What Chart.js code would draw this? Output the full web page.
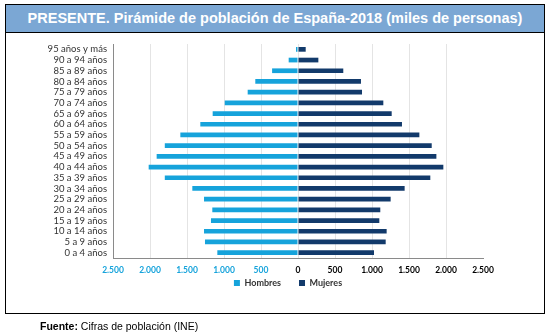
<!DOCTYPE html>
<html>
<head>
<meta charset="utf-8">
<script src="https://cdn.jsdelivr.net/npm/chart.js@4"></script>
<style>
  html, body { margin: 0; padding: 0; background: #fff; }
  body { width: 551px; height: 336px; position: relative; overflow: hidden; }
  #c { position: absolute; left: 0; top: 0; }
  #frame { position: absolute; left: 5px; top: 4px; width: 540px; height: 310px;
           border: 1.5px solid #000; box-sizing: border-box; pointer-events: none; }
  #title { position: absolute; left: 0; top: 0; right: 0; height: 28px; background: #7BA7D4;
           border-bottom: 1.5px solid #000; box-sizing: border-box;
           color: #fff; font: bold 14.5px "Liberation Sans", Arial, sans-serif;
           text-align: center; line-height: 26px; }
  #src { position: absolute; left: 40px; top: 320px; font: 10.5px "Liberation Sans", Arial, sans-serif; color: #000; }
</style>
</head>
<body>
<canvas id="c" width="551" height="336"></canvas>
<div id="frame"><div id="title">PRESENTE. Pirámide de población de España-2018 (miles de personas)</div></div>
<div id="src"><b>Fuente:</b> Cifras de población (INE)</div>
<script>
const categories = ["95 años y más","90 a 94 años","85 a 89 años","80 a 84 años","75 a 79 años","70 a 74 años","65 a 69 años","60 a 64 años","55 a 59 años","50 a 54 años","45 a 49 años","40 a 44 años","35 a 39 años","30 a 34 años","25 a 29 años","20 a 24 años","15 a 19 años","10 a 14 años","5 a 9 años","0 a 4 años"];
const hombres = [27,126,350,577,680,990,1153,1320,1590,1800,1910,2018,1800,1428,1270,1158,1176,1270,1257,1090];
const mujeres = [104,275,612,851,865,1153,1266,1405,1640,1807,1870,1964,1788,1441,1252,1112,1099,1198,1185,1027];
const seriesNames = ["Hombres","Mujeres"];
const axisMin = -2500, axisMax = 2500, axisStep = 500;

function fmt(v) {
  const s = String(Math.abs(Math.round(v)));
  return s.replace(/\B(?=(\d{3})+(?!\d))/g, ".");
}

const legendPad = 18;
const legendPlace = {
  id: 'legendPlace',
  afterLayout(chart) {
    const lg = chart.legend;
    if (lg) {
      lg.left -= 10; lg.right -= 10;
      const h = lg.bottom - lg.top;
      lg.top = 283 - legendPad - 4.5;
      lg.bottom = lg.top + h;
    }
  }
};

new Chart(document.getElementById('c'), {
  type: 'bar',
  plugins: [legendPlace],
  data: {
    labels: categories,
    datasets: [
      { label: seriesNames[0], data: hombres.map(v => -v), backgroundColor: '#16A3DB',
        barPercentage: 0.44, categoryPercentage: 1 },
      { label: seriesNames[1], data: mujeres, backgroundColor: '#123A6B',
        barPercentage: 0.44, categoryPercentage: 1 }
    ]
  },
  options: {
    indexAxis: 'y',
    responsive: false,
    animation: false,
    layout: { padding: { left: 0, right: 68, top: 44, bottom: 23 } },
    plugins: {
      title: { display: false },
      tooltip: { enabled: false },
      legend: {
        display: true, position: 'bottom', fullSize: false,
        labels: { boxWidth: 6, boxHeight: 6, padding: legendPad, color: '#333',
                  font: { family: 'Lato', size: 9, weight: 'bold' } }
      }
    },
    scales: {
      x: {
        stacked: true, min: axisMin, max: axisMax,
        afterFit: s => { s.height = 18; },
        ticks: { stepSize: axisStep, padding: 7, maxRotation: 0,
                 color: c => c.tick.value < 0 ? '#16A3DB' : '#000',
                 font: { family: 'Lato', size: 8.5, weight: 'bold' },
                 callback: v => fmt(v) },
        grid: { drawTicks: false, color: c => (c.tick && (c.tick.value === axisMax || c.tick.value === axisMin)) ? 'rgba(0,0,0,0)' : '#e4e4e4' },
        border: { display: true, color: '#8a8a8a', width: 1 }
      },
      y: {
        stacked: true,
        afterFit: s => { s.width = 113; },
        ticks: { padding: 6, color: '#333', autoSkip: false,
                 font: { family: 'Lato', size: 9.5 } },
        grid: { display: false, drawTicks: false },
        border: { display: true, color: '#8a8a8a', width: 1 }
      }
    }
  }
});
</script>
</body>
</html>
